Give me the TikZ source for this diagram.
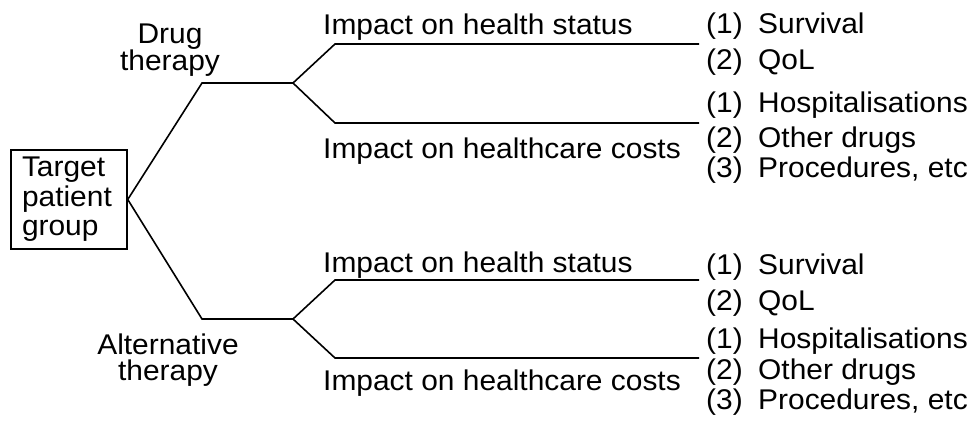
\documentclass[tikz,border=0pt]{standalone}
\usepackage{fontspec}
\setmainfont{Liberation Sans}[FakeStretch=1.05]
\begin{document}
\begin{tikzpicture}[x=1pt,y=-1pt,
  lbl/.style={font=\fontsize{28.5}{29.5}\selectfont, inner sep=0pt},
  twoline/.style={lbl, align=center, font=\fontsize{28.5}{26}\selectfont},
  branch/.style={line width=1.6pt, line join=miter},
  rootbox/.style={lbl, draw, line width=1.5pt, minimum width=116pt, minimum height=99pt,
    text width=94pt, align=left}]
\useasboundingbox (0,0) rectangle (969,425);
\clip (0,0) rectangle (969,425);

% root
\node[rootbox] (root) at (69,199.5) {Target\\patient\\group};

% therapy labels
\node[twoline] (drug) at (170,50.3) {Drug\\therapy};
\node[twoline] (alt) at (168,360.3) {Alternative\\therapy};

% junction coordinates, upper
\coordinate (u1) at (202,83);
\coordinate (u2) at (293,83);
\coordinate (uh1) at (335,44);
\coordinate (uh2) at (699,44);
\coordinate (uc1) at (335,123);
\coordinate (uc2) at (699,123);
% lower
\coordinate (l1) at (202,319);
\coordinate (l2) at (293,319);
\coordinate (lh1) at (335,280);
\coordinate (lh2) at (699,280);
\coordinate (lc1) at (335,358);
\coordinate (lc2) at (699,358);

\draw[branch] (root.east) -- (u1) -- (u2) -- (uh1) -- (uh2);
\draw[branch] (u2) -- (uc1) -- (uc2);
\draw[branch] (root.east) -- (l1) -- (l2) -- (lh1) -- (lh2);
\draw[branch] (l2) -- (lc1) -- (lc2);

% impact labels
\node[lbl, anchor=base west] (uhs) at (323,35) {Impact on health status};
\node[lbl, anchor=base west] (uhc) at (323,158) {Impact on healthcare costs};
\node[lbl, anchor=base west] (lhs) at (323,272) {Impact on health status};
\node[lbl, anchor=base west] (lhc) at (323,390) {Impact on healthcare costs};

% outcome lists, upper
\node[lbl, anchor=base west] (us1) at (706,34) {\makebox[52pt][l]{(1)}Survival};
\node[lbl, anchor=base west] (us2) at (706,70) {\makebox[52pt][l]{(2)}QoL};
\node[lbl, anchor=base west] (uc1t) at (706,113) {\makebox[52pt][l]{(1)}Hospitalisations};
\node[lbl, anchor=base west] (uc2t) at (706,147) {\makebox[52pt][l]{(2)}Other drugs};
\node[lbl, anchor=base west] (uc3t) at (706,177) {\makebox[52pt][l]{(3)}Procedures, etc};
% outcome lists, lower
\node[lbl, anchor=base west] (ls1) at (706,274) {\makebox[52pt][l]{(1)}Survival};
\node[lbl, anchor=base west] (ls2) at (706,310) {\makebox[52pt][l]{(2)}QoL};
\node[lbl, anchor=base west] (lc1t) at (706,348) {\makebox[52pt][l]{(1)}Hospitalisations};
\node[lbl, anchor=base west] (lc2t) at (706,379) {\makebox[52pt][l]{(2)}Other drugs};
\node[lbl, anchor=base west] (lc3t) at (706,409) {\makebox[52pt][l]{(3)}Procedures, etc};
\end{tikzpicture}
\end{document}
